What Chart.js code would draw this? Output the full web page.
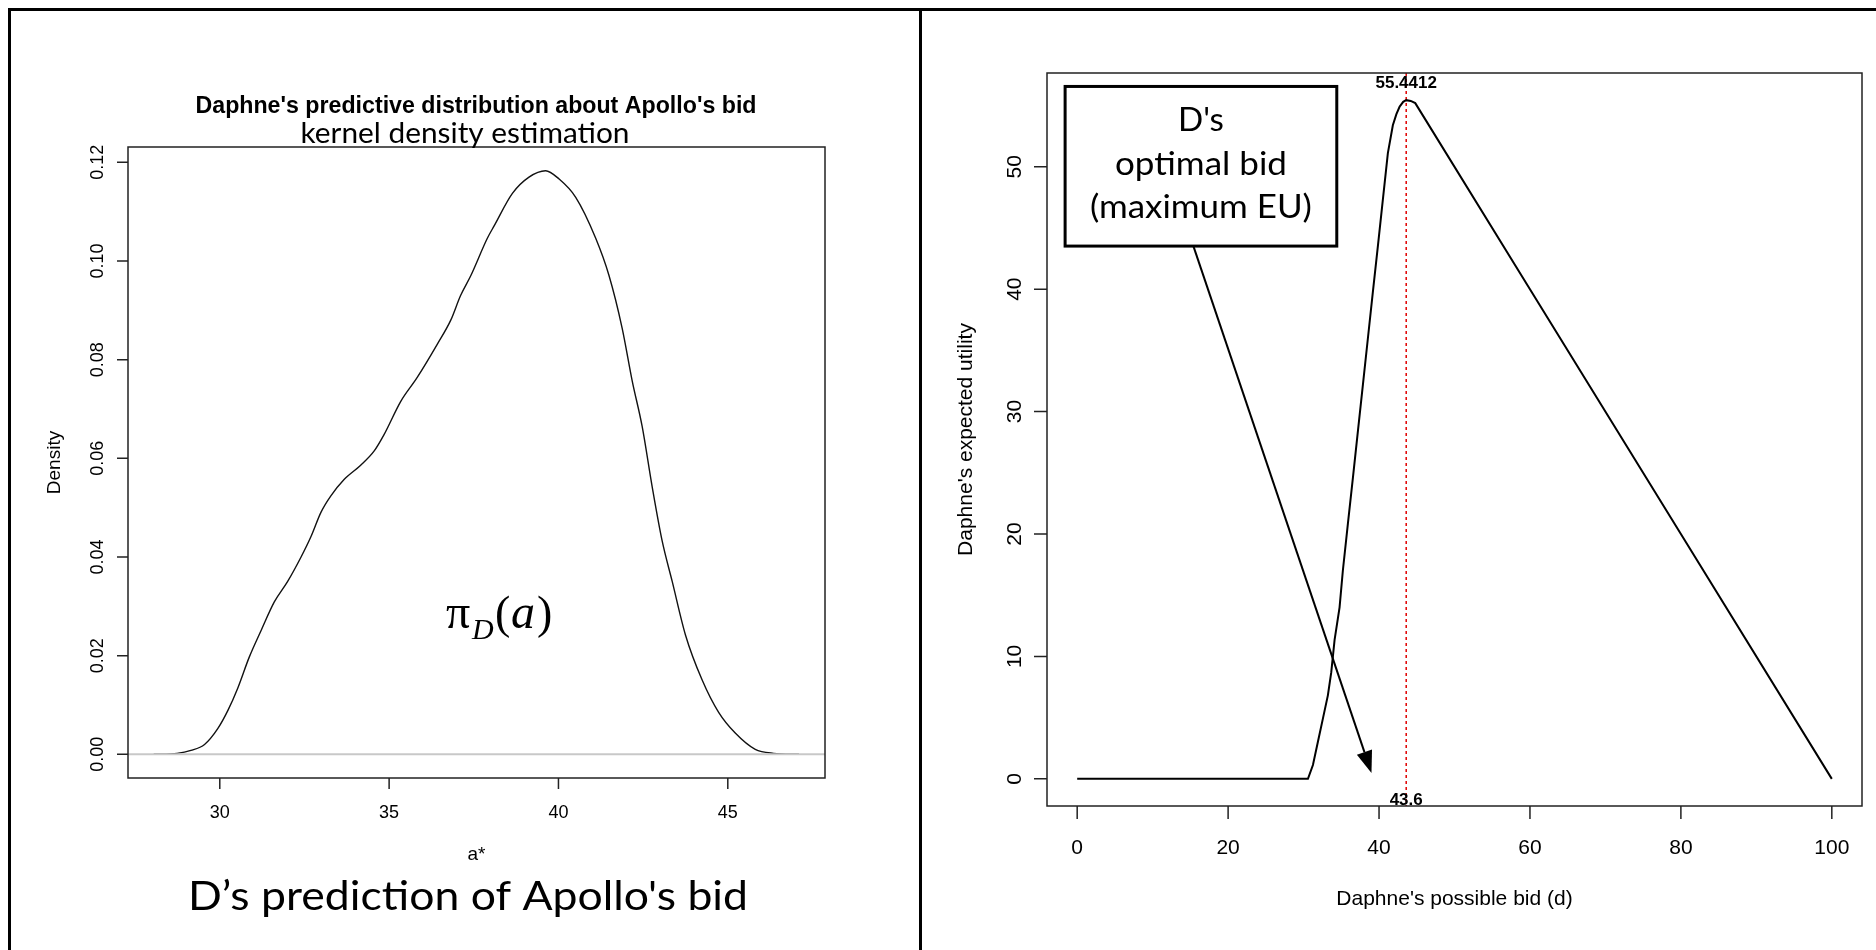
<!DOCTYPE html>
<html>
<head>
<meta charset="utf-8">
<script src="https://cdn.jsdelivr.net/npm/chart.js@4.4.0/dist/chart.umd.min.js"></script>
<style>
  html, body { margin: 0; padding: 0; background: #fff; }
  #page { position: relative; width: 1876px; height: 950px; overflow: hidden; background: #fff; }
  .panel { position: absolute; top: 0; height: 950px; }
  .frame { position: absolute; background: #000; }
</style>
</head>
<body>
<div id="page">
  <div class="panel" style="left:0;width:921px"><canvas id="kde-chart" width="921" height="950"></canvas></div>
  <div class="panel" style="left:921px;width:955px"><canvas id="eu-chart" width="955" height="950"></canvas></div>
  <div class="frame" style="left:8px;top:8px;width:1868px;height:3px"></div>
  <div class="frame" style="left:8px;top:8px;width:3px;height:942px"></div>
  <div class="frame" style="left:919px;top:8px;width:3px;height:942px"></div>
</div>
<script>
// Left: kernel density of Apollo's bid (a*)
const bidA = [28.05, 28.74, 29.15, 29.55, 29.94, 30.24, 30.53, 30.87, 31.22, 31.61, 32.0, 32.4, 32.69, 32.99,
  33.28, 33.67, 34.16, 34.56, 34.85, 35.34, 35.83, 36.42, 36.82, 37.11, 37.41, 37.9, 38.1, 38.64, 39.13,
  39.62, 40.02, 40.51, 41.1, 41.49, 41.88, 42.18, 42.47, 42.77, 43.06, 43.36, 43.75, 44.24, 44.73, 45.22,
  45.81, 46.35, 47.1];
const density = [0, 0.0002, 0.0008, 0.0020, 0.0052, 0.0089, 0.0134, 0.0197, 0.0251, 0.0309, 0.0350, 0.0400,
  0.0441, 0.0491, 0.0524, 0.0557, 0.0586, 0.0615, 0.0648, 0.0715, 0.0764, 0.0831, 0.0880, 0.0930, 0.0970,
  0.1046, 0.1071, 0.1137, 0.1170, 0.1183, 0.1166, 0.1129, 0.1046, 0.0971, 0.0864, 0.0756, 0.0665, 0.0541,
  0.0433, 0.0350, 0.0242, 0.0151, 0.0085, 0.0043, 0.0010, 0.0002, 0];
const kdeXTicks = [30, 35, 40, 45];
const kdeYTicks = [0, 0.02, 0.04, 0.06, 0.08, 0.10, 0.12];
const kdeYLabels = ['0.00', '0.02', '0.04', '0.06', '0.08', '0.10', '0.12'];

// Right: Daphne's expected utility against her bid (d)
const bidD = [0, 30.58, 31.24, 31.9, 32.56, 33.22, 33.67, 34.11, 34.77, 35.21, 35.87, 36.54, 37.2, 37.86,
  38.52, 39.18, 39.85, 40.51, 41.17, 41.83, 42.3, 42.72, 43.2, 43.6, 44.2, 44.8, 60, 80, 100];
const expUtility = [0, 0, 1.13, 3.03, 4.92, 6.82, 8.71, 11.36, 14.01, 17.04, 20.83, 24.61, 28.40, 32.18,
  35.97, 39.76, 43.54, 47.33, 51.11, 53.39, 54.3, 54.90, 55.3, 55.4412, 55.38, 55.2, 40, 20, 0];
const euXTicks = [0, 20, 40, 60, 80, 100];
const euYTicks = [0, 10, 20, 30, 40, 50];
const optimalBid = 43.6;
const maxEU = 55.4412;

const SANS = '"Liberation Sans", Arial, sans-serif';
const CALIBRI = 'Lato, "Open Sans", sans-serif';
const SERIF = '"Liberation Serif", "Times New Roman", serif';

function drawText(ctx, str, x, y, font, opts = {}) {
  ctx.save();
  ctx.font = font;
  ctx.fillStyle = opts.color || '#000';
  ctx.textAlign = opts.align || 'center';
  ctx.textBaseline = opts.baseline || 'alphabetic';
  ctx.translate(x, y);
  if (opts.rotate) ctx.rotate(opts.rotate);
  // squeeze or stretch to the width seen in the picture
  if (opts.width) ctx.scale(opts.width / ctx.measureText(str).width, 1);
  ctx.fillText(str, 0, 0);
  ctx.restore();
}

// base-R style box, outward ticks and rotated y labels
function rAxes(cfg) {
  return {
    id: 'rAxes',
    afterDraw(chart) {
      const {ctx, chartArea: a, scales: {x, y}} = chart;
      ctx.save();
      ctx.strokeStyle = '#222';
      ctx.lineWidth = 1.5;
      ctx.strokeRect(a.left, a.top, a.right - a.left, a.bottom - a.top);
      ctx.beginPath();
      cfg.xTicks.forEach(v => {
        const px = x.getPixelForValue(v);
        ctx.moveTo(px, a.bottom);
        ctx.lineTo(px, a.bottom + cfg.tickLen);
      });
      cfg.yTicks.forEach(v => {
        const py = y.getPixelForValue(v);
        ctx.moveTo(a.left, py);
        ctx.lineTo(a.left - cfg.tickLen, py);
      });
      ctx.stroke();
      ctx.restore();
      cfg.xTicks.forEach((v, i) => drawText(ctx, cfg.xLabels[i], x.getPixelForValue(v),
        a.bottom + cfg.xLabelGap, cfg.font, {baseline: 'middle'}));
      cfg.yTicks.forEach((v, i) => drawText(ctx, cfg.yLabels[i], a.left - cfg.yLabelGap,
        y.getPixelForValue(v), cfg.font, {baseline: 'middle', rotate: -Math.PI / 2}));
      drawText(ctx, cfg.xTitle, (a.left + a.right) / 2, a.bottom + cfg.xTitleGap, cfg.titleFont, {baseline: 'middle'});
      drawText(ctx, cfg.yTitle, a.left - cfg.yTitleGap, (a.top + a.bottom) / 2, cfg.titleFont,
        {baseline: 'middle', rotate: -Math.PI / 2});
    },
  };
}

function baseOptions(padding, xMin, xMax, yMin, yMax) {
  return {
    responsive: false,
    animation: false,
    layout: {padding},
    plugins: {legend: {display: false}, tooltip: {enabled: false}},
    elements: {point: {radius: 0}},
    scales: {
      x: {type: 'linear', min: xMin, max: xMax, display: false},
      y: {type: 'linear', min: yMin, max: yMax, display: false},
    },
  };
}

new Chart(document.getElementById('kde-chart'), {
  type: 'line',
  data: {
    datasets: [{
      data: bidA.map((a, i) => ({x: a, y: density[i]})),
      borderColor: '#111',
      borderWidth: 1.4,
      cubicInterpolationMode: 'monotone',
      fill: false,
    }],
  },
  options: baseOptions({left: 128, right: 96, top: 147, bottom: 172}, 27.29, 47.87, -0.0048, 0.1231),
  plugins: [
    {
      // R draws the grey zero line over the density
      id: 'zeroLine',
      afterDatasetsDraw(chart) {
        const {ctx, chartArea: a, scales: {y}} = chart;
        ctx.save();
        ctx.strokeStyle = '#c8c8c8';
        ctx.lineWidth = 2;
        ctx.beginPath();
        ctx.moveTo(a.left, y.getPixelForValue(0));
        ctx.lineTo(a.right, y.getPixelForValue(0));
        ctx.stroke();
        ctx.restore();
      },
    },
    rAxes({
      xTicks: kdeXTicks, xLabels: kdeXTicks.map(String), yTicks: kdeYTicks, yLabels: kdeYLabels,
      tickLen: 11, font: `18px ${SANS}`, titleFont: `19px ${SANS}`,
      xLabelGap: 35, yLabelGap: 30, xTitleGap: 77, yTitleGap: 73, xTitle: 'a*', yTitle: 'Density',
    }),
    {
      id: 'kdeText',
      afterDraw(chart) {
        const {ctx} = chart;
        drawText(ctx, "Daphne's predictive distribution about Apollo's bid", 476, 113, `bold 23px ${SANS}`, {width: 561});
        drawText(ctx, 'kernel density estimation', 465, 143, `28px ${CALIBRI}`, {width: 329});
        drawText(ctx, 'D\u2019s prediction of Apollo\'s bid', 468, 910, `40px ${CALIBRI}`, {width: 560});
        // pi_D(a)
        drawText(ctx, '\u03c0', 446, 628, `48px ${SERIF}`, {align: 'left'});
        drawText(ctx, 'D', 472, 639, `italic 30px ${SERIF}`, {align: 'left'});
        drawText(ctx, '(', 495, 628, `46px ${SERIF}`, {align: 'left'});
        drawText(ctx, 'a', 511, 628, `italic 48px ${SERIF}`, {align: 'left'});
        drawText(ctx, ')', 537, 628, `46px ${SERIF}`, {align: 'left'});
      },
    },
  ],
});

new Chart(document.getElementById('eu-chart'), {
  type: 'line',
  data: {
    datasets: [{
      data: bidD.map((d, i) => ({x: d, y: expUtility[i]})),
      borderColor: '#000',
      borderWidth: 2,
      tension: 0,
      fill: false,
    }],
  },
  options: baseOptions({left: 126, right: 14, top: 73, bottom: 144}, -4, 104, -2.2176, 57.6588),
  plugins: [
    {
      id: 'optimumLine',
      beforeDatasetsDraw(chart) {
        const {ctx, chartArea: a, scales: {x}} = chart;
        const px = x.getPixelForValue(optimalBid);
        ctx.save();
        ctx.strokeStyle = '#e00000';
        ctx.lineWidth = 1.5;
        ctx.setLineDash([3, 3]);
        ctx.beginPath();
        ctx.moveTo(px, a.top);
        ctx.lineTo(px, a.bottom);
        ctx.stroke();
        ctx.restore();
      },
    },
    rAxes({
      xTicks: euXTicks, xLabels: euXTicks.map(String), yTicks: euYTicks, yLabels: euYTicks.map(String),
      tickLen: 13, font: `21px ${SANS}`, titleFont: `21px ${SANS}`,
      xLabelGap: 42, yLabelGap: 32, xTitleGap: 93, yTitleGap: 81,
      xTitle: "Daphne's possible bid (d)", yTitle: "Daphne's expected utility",
    }),
    {
      id: 'euNotes',
      afterDraw(chart) {
        const {ctx, chartArea: a, scales: {x, y}} = chart;
        const px = x.getPixelForValue(optimalBid);
        drawText(ctx, String(maxEU), px, y.getPixelForValue(maxEU) - 12, `bold 17px ${SANS}`);
        drawText(ctx, String(optimalBid), px, a.bottom - 1, `bold 17px ${SANS}`);
        // callout box
        const bx0 = x.getPixelForValue(-1.6), bx1 = x.getPixelForValue(34.4);
        const by0 = y.getPixelForValue(56.56), by1 = y.getPixelForValue(43.52);
        ctx.save();
        ctx.strokeStyle = '#000';
        ctx.lineWidth = 3;
        ctx.strokeRect(bx0, by0, bx1 - bx0, by1 - by0);
        ctx.restore();
        const cx = (bx0 + bx1) / 2;
        drawText(ctx, "D's", cx, by0 + 45, `33px ${CALIBRI}`, {width: 46});
        drawText(ctx, 'optimal bid', cx, by0 + 89, `33px ${CALIBRI}`, {width: 172});
        drawText(ctx, '(maximum EU)', cx, by0 + 132, `33px ${CALIBRI}`, {width: 222});
        // arrow to the bid axis
        const sx = x.getPixelForValue(15.4), sy = by1;
        const tx = x.getPixelForValue(39.0), ty = y.getPixelForValue(0.48);
        const ang = Math.atan2(ty - sy, tx - sx);
        const headLen = 22, headHalf = 8;
        const hx = tx - headLen * Math.cos(ang), hy = ty - headLen * Math.sin(ang);
        ctx.save();
        ctx.strokeStyle = '#000';
        ctx.fillStyle = '#000';
        ctx.lineWidth = 2;
        ctx.beginPath();
        ctx.moveTo(sx, sy);
        ctx.lineTo(hx, hy);
        ctx.stroke();
        ctx.beginPath();
        ctx.moveTo(tx, ty);
        ctx.lineTo(hx + headHalf * Math.sin(ang), hy - headHalf * Math.cos(ang));
        ctx.lineTo(hx - headHalf * Math.sin(ang), hy + headHalf * Math.cos(ang));
        ctx.closePath();
        ctx.fill();
        ctx.restore();
      },
    },
  ],
});
</script>
</body>
</html>
